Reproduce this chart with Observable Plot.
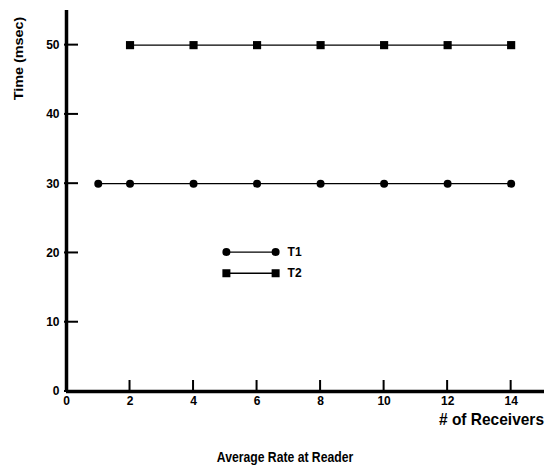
<!DOCTYPE html>
<html>
<head>
<meta charset="utf-8">
<script src="https://cdn.jsdelivr.net/npm/d3@7"></script>
<script src="https://cdn.jsdelivr.net/npm/@observablehq/plot@0.6"></script>
<style>
  html, body { margin: 0; padding: 0; background: #fff; }
  #chart svg { display: block; }
</style>
</head>
<body>
<div id="chart"></div>
<script>
// Series: response time vs. number of receivers
const t1Receivers = [1, 2, 4, 6, 8, 10, 12, 14];
const t1Time = [30, 30, 30, 30, 30, 30, 30, 30];
const t2Receivers = [2, 4, 6, 8, 10, 12, 14];
const t2Time = [50, 50, 50, 50, 50, 50, 50];

const xTicks = [0, 2, 4, 6, 8, 10, 12, 14];
const yTicks = [0, 10, 20, 30, 40, 50];

const seriesNames = ["T1", "T2"];
const xTitle = "# of Receivers";
const yTitle = "Time (msec)";
const caption = "Average Rate at Reader";

const t1 = t1Receivers.map((x, i) => ({x, y: t1Time[i]}));
const t2 = t2Receivers.map((x, i) => ({x, y: t2Time[i]}));

const font = "'Liberation Sans', Arial, sans-serif";

const plot = Plot.plot({
  width: 550,
  height: 468,
  marginLeft: 66,
  marginRight: 6,
  marginTop: 10,
  marginBottom: 77,
  style: {fontFamily: font, fontWeight: "bold", fontSize: "12px", color: "#000", background: "#fff"},
  x: {domain: [0, 15.05]},
  y: {domain: [0, 55]},
  marks: [
    // tick labels
    Plot.axisX({ticks: xTicks, tickSize: 0, tickPadding: 5, label: null, fontWeight: "bold"}),
    Plot.axisY({ticks: yTicks, tickSize: 0, tickPadding: 7, label: null, fontWeight: "bold"}),
    // spines
    Plot.ruleX([0], {strokeWidth: 3.5}),
    Plot.ruleY([0], {strokeWidth: 3.5}),
    // series
    Plot.line(t1, {x: "x", y: "y", stroke: "#000", strokeWidth: 1.3}),
    Plot.dot(t1, {x: "x", y: "y", r: 4, fill: "#000", stroke: null}),
    Plot.line(t2, {x: "x", y: "y", stroke: "#000", strokeWidth: 1.3}),
    Plot.dot(t2, {x: "x", y: "y", symbol: "square", r: 4.6, fill: "#000", stroke: null})
  ]
});

// Inward ticks, axis titles and legend, placed through the plot's own scales
const sx = plot.scale("x"), sy = plot.scale("y");
const svg = d3.select(plot);
const xOrigin = sx.apply(0), yOrigin = sy.apply(0);

// ticks as thin filled rectangles pointing into the plot area
const tickGroup = svg.append("g").attr("fill", "#000");
xTicks.forEach(t => {
  tickGroup.append("rect")
    .attr("x", sx.apply(t) - 1).attr("y", yOrigin - 11)
    .attr("width", 2).attr("height", 11);
});
yTicks.forEach(t => {
  tickGroup.append("rect")
    .attr("x", xOrigin - 2).attr("y", sy.apply(t) - 1)
    .attr("width", 14).attr("height", 2);
});

svg.append("text")
  .attr("transform", `translate(${sx.apply(15.05)},425) scale(1,1.12)`)
  .attr("text-anchor", "end")
  .attr("font-size", 15.5).attr("font-weight", "bold").attr("font-family", font)
  .text(xTitle);

svg.append("text")
  .attr("transform", `translate(23,${sy.apply(48.0)}) rotate(-90) scale(1.2,1)`)
  .attr("text-anchor", "middle")
  .attr("font-size", 12).attr("font-weight", "bold").attr("font-family", font)
  .text(yTitle);

svg.append("text")
  .attr("transform", "translate(285,462) scale(1,1.25)")
  .attr("text-anchor", "middle")
  .attr("font-size", 12.2).attr("font-weight", "bold").attr("font-family", font)
  .text(caption);

const legend = svg.append("g");
const lx0 = sx.apply(5.05), lx1 = sx.apply(6.6);
[sy.apply(20.05), sy.apply(17.0)].forEach((ly, i) => {
  legend.append("line").attr("x1", lx0).attr("x2", lx1).attr("y1", ly).attr("y2", ly)
    .attr("stroke", "#000").attr("stroke-width", 1.3);
  [lx0, lx1].forEach(cx => {
    if (i === 0) legend.append("circle").attr("cx", cx).attr("cy", ly).attr("r", 4).attr("fill", "#000");
    else legend.append("rect").attr("x", cx - 4).attr("y", ly - 4).attr("width", 8).attr("height", 8).attr("fill", "#000");
  });
  legend.append("text").attr("x", lx1 + 19).attr("y", ly).attr("dy", "0.35em")
    .attr("font-size", 12).attr("font-weight", "bold").attr("font-family", font)
    .text(seriesNames[i]);
});

document.getElementById("chart").appendChild(plot);
</script>
</body>
</html>
